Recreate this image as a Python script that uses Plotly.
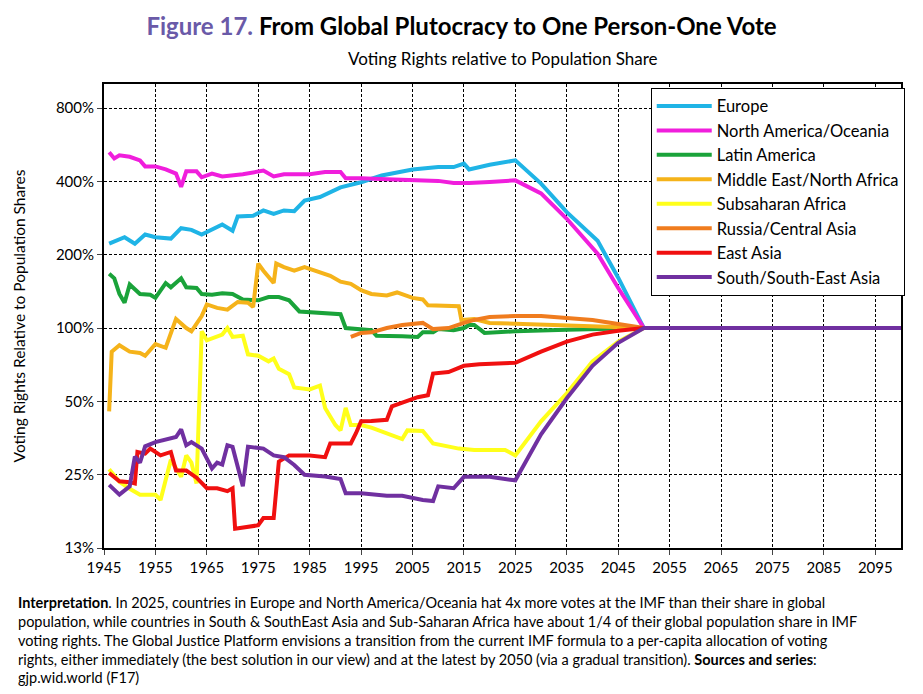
import plotly.graph_objects as go

# years / values (percent)
eu_x = [1946, 1949, 1951, 1953, 1955, 1958, 1960, 1962, 1964, 1966, 1968, 1970, 1971, 1974, 1976, 1978, 1980, 1982, 1984,
        1987, 1991, 1995, 1999, 2005, 2010, 2013, 2015, 2016, 2020, 2025, 2030, 2035, 2041, 2045, 2050, 2100]
eu_y = [222, 236, 222, 242, 236, 233, 257, 253, 242, 255, 266, 251, 287, 289, 304, 294, 304, 302, 334,
        345, 378, 397, 423, 448, 458, 458, 473, 448, 468, 488, 392, 299, 228, 161, 100, 100]

na_x = [1946, 1947, 1948, 1950, 1952, 1953, 1955, 1957, 1959, 1960, 1961, 1963, 1964, 1966, 1968, 1972, 1976, 1978, 1980,
        1985, 1988, 1991, 1992, 1995, 2000, 2005, 2010, 2013, 2016, 2020, 2025, 2030, 2035, 2041, 2045, 2050, 2100]
na_y = [527, 497, 512, 505, 488, 461, 461, 448, 431, 380, 440, 440, 416, 431, 419, 428, 443, 419, 428,
        428, 437, 437, 412, 412, 408, 404, 402, 394, 394, 398, 404, 357, 281, 202, 146, 100, 100]

la_x = [1946, 1947, 1948, 1949, 1950, 1952, 1954, 1955, 1957, 1958, 1960, 1961, 1963, 1964, 1966, 1968, 1970, 1972, 1975,
        1977, 1979, 1981, 1983, 1985, 1988, 1991, 1992, 1995, 1997, 1998, 2000, 2003, 2006, 2007, 2009, 2010, 2013, 2015,
        2016, 2017, 2019, 2025, 2035, 2045, 2050, 2100]
la_y = [167, 160, 138, 127, 151, 138, 137, 133, 153, 147, 160, 147, 146, 138, 137, 139, 138, 131, 130,
        134, 134, 130, 117, 116, 115, 114, 100, 99, 98, 93, 93, 92.5, 92, 96, 96, 99, 98, 100,
        103, 103, 95.5, 97, 98.5, 99.5, 100, 100]

me_x = [1946, 1946.5, 1948, 1950, 1952, 1953, 1955, 1957, 1959, 1961, 1962, 1964, 1965, 1967, 1969, 1971, 1973, 1974,
        1975, 1976, 1978, 1978.5, 1980, 1982, 1984, 1986, 1989, 1991, 1993, 1995, 1997, 2000, 2002, 2005, 2007, 2008,
        2010, 2014, 2014.5, 2017, 2020, 2025, 2035, 2045, 2050, 2100]
me_y = [45.5, 80, 85, 80, 79, 77, 86, 83, 109, 100, 97, 112, 125, 121, 119, 128, 127, 122,
        184, 172, 153, 184, 178, 172, 178, 172, 164, 155, 152, 143, 138, 136, 140, 133, 131, 124,
        124, 123, 108, 109, 105, 104, 102, 100.5, 100, 100]

ssa_x = [1946, 1948, 1950, 1952, 1955, 1956, 1958, 1960, 1961, 1962, 1963, 1963.5, 1964, 1965, 1967, 1968, 1969, 1970,
         1972, 1973, 1975, 1977, 1978, 1979, 1981, 1982, 1985, 1987, 1988, 1990, 1991, 1992, 1993, 1995, 1997, 2000,
         2003, 2004, 2007, 2009, 2014, 2017, 2023, 2025, 2030, 2035, 2040, 2045, 2050, 2100]
ssa_y = [26.3, 23.4, 21.9, 20.7, 20.7, 19.7, 28.8, 24.5, 30, 28, 23, 50, 97, 89, 92, 94, 100, 92,
         93, 78, 77, 73, 75, 68, 64.6, 57, 56, 58, 47, 40, 38, 47, 40, 40, 39, 37,
         35, 38, 37.8, 33.6, 32, 31.6, 31.6, 30, 41.4, 54, 73, 88, 100, 100]

ru_x = [1993, 1995, 1997, 2000, 2003, 2007, 2009, 2012, 2015, 2017, 2020, 2023, 2025, 2030, 2035, 2040, 2045, 2050, 2100]
ru_y = [92, 95.5, 96, 100, 103, 105, 99, 100, 105, 108, 111, 112, 112, 112, 110, 108, 104, 100, 100]

ea_x = [1946, 1948, 1950, 1951, 1951.5, 1953, 1954, 1956, 1958, 1959, 1961, 1963, 1965, 1967, 1969, 1970, 1970.5, 1973,
        1975, 1976, 1978, 1979, 1981, 1985, 1988, 1989, 1992, 1993, 1994, 1995, 1997, 2000, 2001, 2004, 2006, 2008,
        2009, 2012, 2015, 2018, 2025, 2030, 2035, 2040, 2045, 2050, 2100]
ea_y = [25.4, 23.5, 23.3, 23, 31, 30.5, 32, 30, 31, 26, 26, 24.3, 22, 22, 21.4, 22, 15, 15.3,
        15.5, 16.6, 16.6, 28.3, 30, 30, 29.5, 33.6, 33.6, 33.6, 37, 41.4, 41.5, 42, 47.7, 50, 52, 53,
        65, 66, 70, 71, 72, 80, 88, 94, 97.5, 100, 100]

sa_x = [1946, 1948, 1950, 1951, 1952, 1953, 1955, 1957, 1959, 1960, 1961, 1962, 1964, 1966, 1967, 1968, 1969, 1970,
        1972, 1973, 1976, 1978, 1980, 1982, 1984, 1988, 1991, 1992, 1995, 2000, 2003, 2007, 2009, 2010, 2013, 2015,
        2020, 2023, 2025, 2030, 2035, 2040, 2045, 2050, 2100]
sa_y = [22.7, 20.7, 22.4, 29.7, 28, 32.7, 34, 35, 35.7, 38.4, 33, 34, 32, 26.5, 28, 27.5, 33, 32.5,
        22.4, 32.6, 32, 30, 29.5, 27.4, 25, 24.6, 24, 21, 21, 20.5, 20.5, 19.7, 19.5, 22.4, 22, 24.5,
        24.5, 24, 23.7, 36.6, 51.5, 70, 87, 100, 100]

series = [
    ("Europe", eu_x, eu_y, "#1fb4e6"),
    ("North America/Oceania", na_x, na_y, "#f01edc"),
    ("Latin America", la_x, la_y, "#1aa33a"),
    ("Middle East/North Africa", me_x, me_y, "#f5b31a"),
    ("Subsaharan Africa", ssa_x, ssa_y, "#ffff1a"),
    ("Russia/Central Asia", ru_x, ru_y, "#f07c1e"),
    ("East Asia", ea_x, ea_y, "#f01010"),
    ("South/South-East Asia", sa_x, sa_y, "#7030a0"),
]

y_ticks = [12.5, 25, 50, 100, 200, 400, 800]
y_labels = ["13%", "25%", "50%", "100%", "200%", "400%", "800%"]
x_ticks = list(range(1945, 2100, 10))

fig = go.Figure()
for name, xs, ys, col in series:
    fig.add_trace(go.Scatter(x=xs, y=ys, mode="lines", name=name,
                             line=dict(color=col, width=4)))

# page body has an 8px margin, so the figure is a bit smaller than the window
fig.update_layout(
    width=907, height=678,
    margin=dict(l=96, r=10, t=76, b=138),
    paper_bgcolor="white", plot_bgcolor="white",
    font=dict(family="Lato, Noto Sans, sans-serif", size=14, color="black"),
    title=dict(text="<span style='color:#6a5aa8'>Figure 17.</span> From Global Plutocracy to One Person-One Vote",
               x=0.5, xanchor="center", y=0.985, yanchor="top",
               font=dict(size=24, color="black", family="Lato, sans-serif", weight="bold")),
    legend=dict(x=0.686, y=0.992, xanchor="left", yanchor="top", bgcolor="white",
                bordercolor="black", borderwidth=1, font=dict(size=16.5), tracegroupgap=0,
                itemwidth=55),
    showlegend=True,
)
fig.update_xaxes(range=[1945, 2100], tickvals=x_ticks, showgrid=True, gridcolor="black",
                 griddash="3px,2px", gridwidth=1, showline=True, linecolor="black", linewidth=2,
                 mirror=True, ticks="outside", ticklen=5, tickfont=dict(size=15))
fig.update_yaxes(type="log", range=[1.097, 3.002], tickvals=y_ticks, ticktext=y_labels,
                 showgrid=True, gridcolor="black", griddash="3px,2px", gridwidth=1,
                 showline=True, linecolor="black", linewidth=2, mirror=True,
                 ticks="outside", ticklen=5, tickfont=dict(size=15),
                 title=dict(text="Voting Rights Relative to Population Shares", font=dict(size=15.5), standoff=26))

fig.add_annotation(text="Voting Rights relative to Population Share", xref="paper", yref="paper",
                   x=0.5, y=1.028, xanchor="center", yanchor="bottom", showarrow=False,
                   font=dict(size=17))
fig.add_annotation(
    text="<b>Interpretation</b>. In 2025, countries in Europe and North America/Oceania hat 4x more votes at the IMF than their share in global<br>"
         "population, while countries in South &amp; SouthEast Asia and Sub-Saharan Africa have about 1/4 of their global population share in IMF<br>"
         "voting rights. The Global Justice Platform envisions a transition from the current IMF formula to a per-capita allocation of voting<br>"
         "rights, either immediately (the best solution in our view) and at the latest by 2050 (via a gradual transition). <b>Sources and series</b>:<br>"
         "gjp.wid.world (F17)",
    xref="paper", yref="paper", x=-0.11, y=-0.095, xanchor="left", yanchor="top", align="left",
    showarrow=False, font=dict(size=14.5))

fig.write_html("out.html")
